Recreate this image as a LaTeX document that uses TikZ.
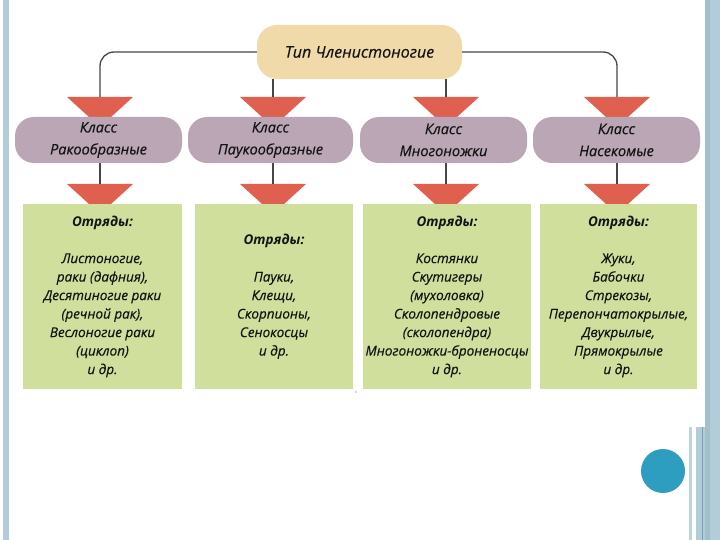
\documentclass[tikz,border=0pt]{standalone}
\usepackage{fontspec}
\setmainfont{Open Sans}
\newfontfamily\semifont{Open Sans}[FakeBold=0.35]
\usetikzlibrary{calc}
\definecolor{tanbox}{RGB}{241,218,170}
\definecolor{classbox}{RGB}{186,166,181}
\definecolor{greenbox}{RGB}{208,224,156}
\definecolor{trired}{RGB}{224,96,80}
\definecolor{stripe}{RGB}{178,205,215}
\definecolor{stripedark}{RGB}{160,192,204}
\definecolor{stripeline}{RGB}{110,165,185}
\definecolor{dotblue}{RGB}{45,157,192}
\definecolor{txt}{RGB}{20,20,20}
\definecolor{conncol}{RGB}{70,70,70}
\tikzset{
  topbox/.style={fill=tanbox, rounded corners=20pt, minimum width=205pt, minimum height=54pt, inner sep=0pt,
    text=txt, font=\semifont\fontsize{16}{20}\selectfont\itshape},
  classnode/.style={fill=classbox, rounded corners=19pt, minimum height=46pt, inner sep=0pt, align=center,
    text=txt, font=\semifont\fontsize{14.5}{22}\selectfont\itshape},
  ordbox/.style={fill=greenbox, minimum height=184pt, inner sep=0pt, align=center,
    text=txt, font=\semifont\fontsize{13.5}{18.5}\selectfont\itshape},
  conn/.style={draw=conncol, line width=1.3pt, rounded corners=14pt},
  tri/.style={fill=trired},
}
\newcommand{\ordhead}{{\normalfont\fontsize{13.5}{18.5}\selectfont\bfseries\itshape Отряды:}\\[18.5pt]}
\begin{document}
\begin{tikzpicture}[x=1pt,y=-1pt]
\useasboundingbox (0,0) rectangle (720,540);
\fill[white] (0,0) rectangle (720,540);
% side stripes
\fill[stripe] (3,0) rectangle (9,540);
\fill[stripe] (705,0) rectangle (720,540);
\fill[stripedark] (705,0) rectangle (710,540);
\fill[stripe!85!white] (689,427) rectangle (692,540);
\fill[stripe] (696,427) rectangle (705,540);
\fill[stripeline] (701.5,427) rectangle (703,540);
\fill[dotblue] (663,471) circle (22);
% triangle anchor points
\coordinate (tA1) at (100,97);
\coordinate (tA2) at (273,97);
\coordinate (tA3) at (446,97);
\coordinate (tA4) at (617,97);
\coordinate (tB1) at (100,184);
\coordinate (tB2) at (273,184);
\coordinate (tB3) at (446,184);
\coordinate (tB4) at (617,184);
\foreach \t in {tA1,tA2,tA3,tA4,tB1,tB2,tB3,tB4}{
  \fill[tri] ([xshift=-33pt]\t) -- ([xshift=33pt]\t) -- ([yshift=-30pt]\t) -- cycle;
}
% nodes
\node[topbox] (top) at (359.5,52) {Тип Членистоногие};
\node[classnode, minimum width=167pt] (c1) at (98.5,140) {Класс\\Ракообразные};
\node[classnode, minimum width=165pt] (c2) at (270.5,140) {Класс\\Паукообразные};
\node[classnode, minimum width=167pt] (c3) at (443.5,140) {Класс\\Многоножки};
\node[classnode, minimum width=167pt] (c4) at (616.5,140) {Класс\\Насекомые};
\node[ordbox, minimum width=159pt] (o1) at (102.5,296.5) {\ordhead Листоногие,\\раки (дафния),\\Десятиногие раки\\(речной рак),\\Веслоногие раки\\(циклоп)\\и др.};
\node[ordbox, minimum width=158pt] (o2) at (274,296.5) {\ordhead Пауки,\\Клещи,\\Скорпионы,\\Сенокосцы\\и др.};
\node[ordbox, minimum width=168pt] (o3) at (447,296.5) {\ordhead Костянки\\Скутигеры\\(мухоловка)\\Сколопендровые\\(сколопендра)\\Многоножки-броненосцы\\и др.};
\node[ordbox, minimum width=157pt] (o4) at (618.5,296.5) {\ordhead Жуки,\\Бабочки\\Стрекозы,\\Перепончатокрылые,\\Двукрылые,\\Прямокрылые\\и др.};
% connectors
\draw[conn] (top.west) -| (tA1);
\draw[conn] (top.east) -| (tA4);
\draw[conn] (top.south -| tA2) -- (tA2);
\draw[conn] (top.south -| tA3) -- (tA3);
\draw[conn] (c1.south -| tB1) -- (tB1);
\draw[conn] (c2.south -| tB2) -- (tB2);
\draw[conn] (c3.south -| tB3) -- (tB3);
\draw[conn] (c4.south -| tB4) -- (tB4);
\fill[black!60] (356,392) circle (0.7);
\end{tikzpicture}
\end{document}
